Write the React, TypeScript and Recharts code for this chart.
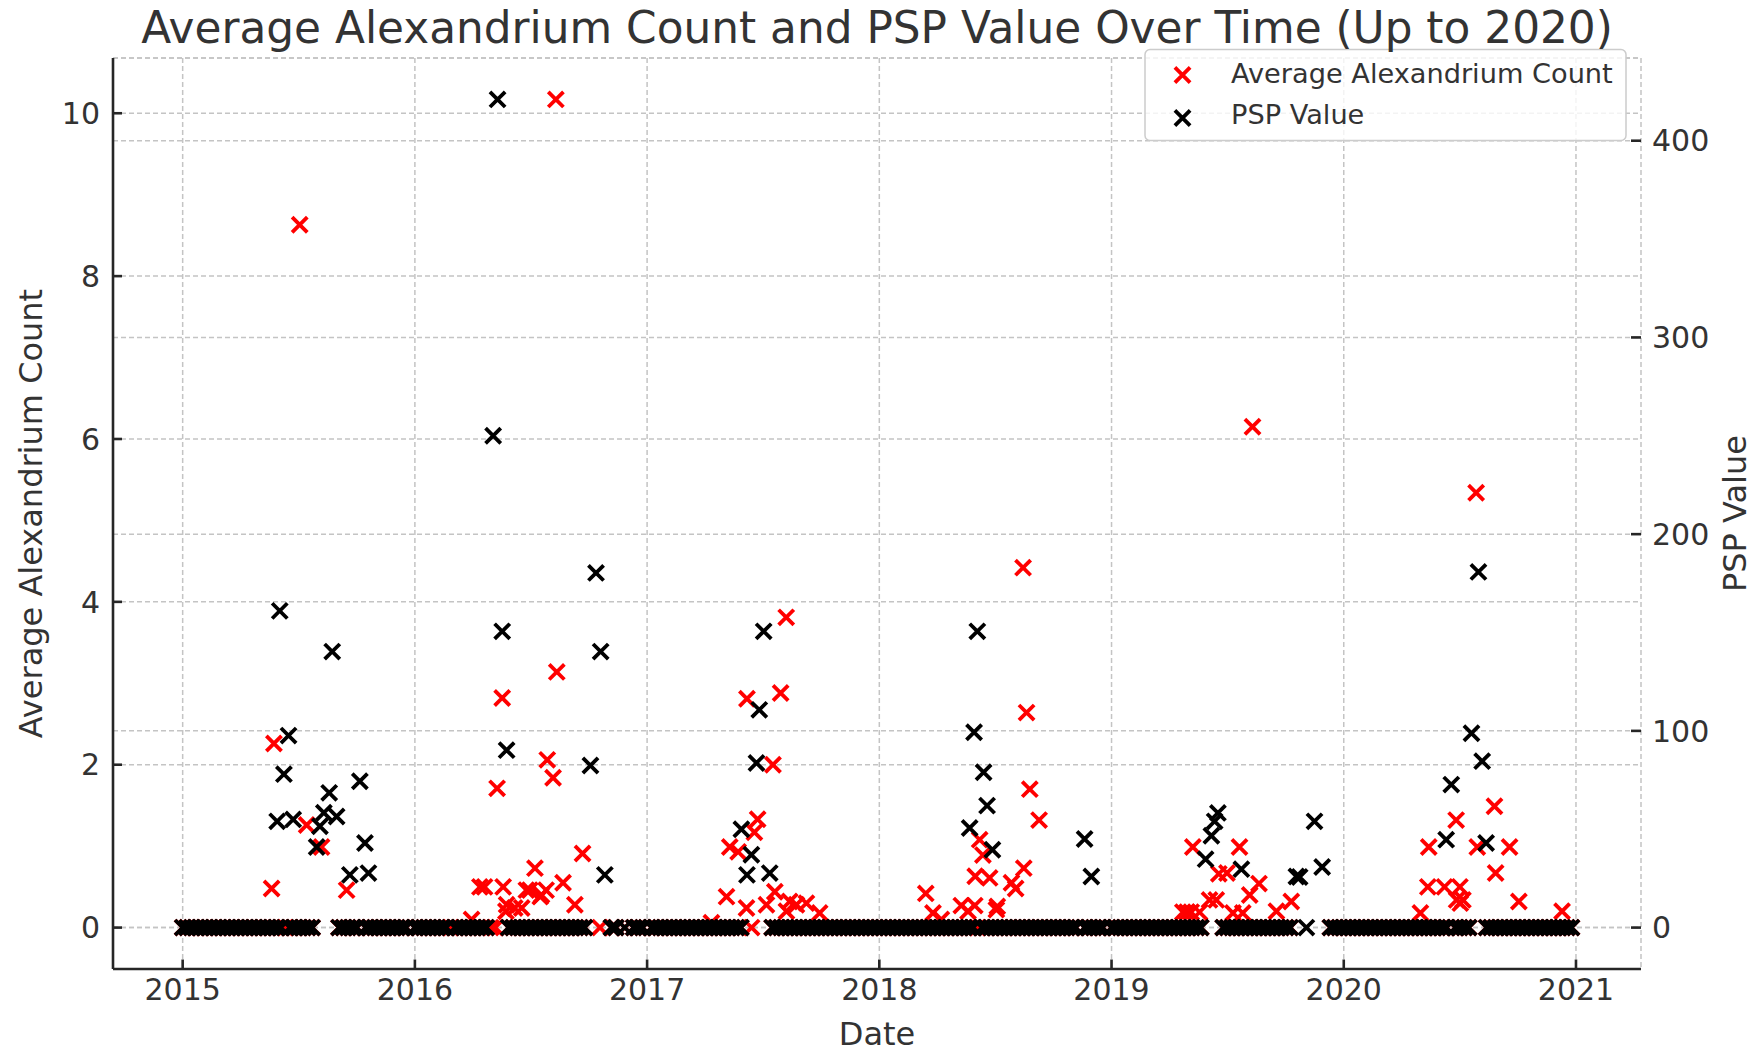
import React from 'react'
import { CartesianGrid, Legend, Scatter, ScatterChart, XAxis, YAxis } from 'recharts'

const WIDTH = 1754
const HEIGHT = 1052
const FONT = '"DejaVu Sans", Verdana, sans-serif'
const TEXT = '#333333'
const SPINE = '#262626'
const GRID = '#c4c4c4'

const yearTicks = [2015, 2016, 2017, 2018, 2019, 2020, 2021]
const countTicks = [0, 2, 4, 6, 8, 10]
const pspTicks = [0, 100, 200, 300, 400]

// weekly samples (week index within the year) where both count and PSP read 0
const zeroWeeks2015 = [0, 1, 2, 3, 4, 5, 6, 7, 8, 9, 10, 11, 12, 13, 14, 15, 16, 17, 18, 19, 20, 21, 22, 24, 25, 26, 27, 28, 29, 35, 36, 37, 38, 39, 41, 42, 43, 44, 45, 46, 47, 48, 49, 50]
const zeroWeeks2016 = [0, 1, 2, 3, 4, 5, 6, 7, 9, 10, 11, 12, 13, 14, 15, 16, 21, 22, 23, 24, 25, 26, 27, 28, 29, 30, 31, 32, 33, 34, 35, 36, 37, 38, 44, 45, 47, 49, 50, 51]
const zeroWeeks2017 = [1, 2, 3, 4, 5, 6, 7, 8, 9, 10, 11, 12, 13, 14, 15, 16, 17, 18, 19, 20, 21, 28, 29, 30, 31, 32, 33, 34, 35, 36, 37, 38, 39, 40, 41, 42, 43, 44, 45, 46, 47, 48, 49, 50, 51]
const zeroWeeks2018 = [0, 1, 2, 3, 4, 5, 6, 7, 8, 9, 10, 11, 12, 13, 14, 15, 16, 17, 18, 19, 20, 21, 23, 24, 25, 26, 27, 28, 29, 30, 31, 32, 33, 34, 35, 36, 37, 38, 39, 40, 41, 42, 43, 44, 46, 47, 48, 49, 50]
const zeroWeeks2019 = [0, 1, 2, 3, 4, 5, 6, 7, 8, 9, 10, 11, 12, 13, 14, 15, 16, 17, 18, 19, 20, 25, 26, 27, 28, 29, 30, 31, 32, 33, 34, 35, 36, 37, 38, 39, 40, 49, 50, 51]
const zeroWeeks2020 = [0, 1, 2, 3, 4, 5, 6, 7, 8, 9, 10, 11, 12, 13, 14, 15, 16, 17, 18, 19, 20, 21, 22, 23, 25, 26, 27, 28, 32, 33, 34, 35, 36, 37, 38, 39, 40, 41, 42, 43, 44, 45, 46, 47, 48, 49, 50, 51]

// Average Alexandrium count readings: [decimal year, value]
const alexReadings: [number, number][] = [
  [2015.383, 0.48], [2015.393, 2.26], [2015.442, 0], [2015.504, 8.63], [2015.534, 1.26],
  [2015.598, 0.99], [2015.706, 0.46],
  [2016.154, 0], [2016.244, 0.1], [2016.28, 0.5], [2016.3, 0.5], [2016.327, 0], [2016.346, 0],
  [2016.354, 1.71], [2016.376, 2.82], [2016.38, 0.5], [2016.392, 0.2], [2016.395, 0.28], [2016.43, 0.24],
  [2016.46, 0.24], [2016.48, 0.46], [2016.495, 0.46], [2016.517, 0.73], [2016.54, 0.38], [2016.545, 0.4],
  [2016.565, 0.46], [2016.57, 2.06], [2016.595, 1.84], [2016.607, 10.17], [2016.611, 3.14],
  [2016.638, 0.55], [2016.689, 0.28], [2016.722, 0.91], [2016.797, 0],
  [2017.277, 0.06], [2017.342, 0.38], [2017.356, 0.99], [2017.392, 0.93], [2017.428, 0.24],
  [2017.43, 2.81], [2017.45, 0], [2017.462, 1.17], [2017.476, 1.33], [2017.514, 0.28],
  [2017.542, 2.0], [2017.55, 0.44], [2017.575, 2.88], [2017.599, 3.81], [2017.6, 0.2],
  [2017.614, 0.32], [2017.643, 0.28], [2017.686, 0.3], [2017.743, 0.18],
  [2018.2, 0.42], [2018.231, 0.18], [2018.267, 0.1], [2018.353, 0.27], [2018.382, 0.2],
  [2018.411, 0.27], [2018.413, 0.63], [2018.423, 0], [2018.432, 1.08], [2018.446, 0.89],
  [2018.475, 0.61], [2018.504, 0.22], [2018.508, 0.26], [2018.569, 0.55], [2018.587, 0.48], [2018.619, 4.42],
  [2018.622, 0.73], [2018.634, 2.64], [2018.648, 1.7], [2018.688, 1.32],
  [2019.307, 0.19], [2019.325, 0.19], [2019.343, 0.19], [2019.35, 0.99], [2019.379, 0.19],
  [2019.422, 0.34], [2019.451, 0.34], [2019.462, 0.66], [2019.497, 0.67], [2019.523, 0.18],
  [2019.551, 0.99], [2019.565, 0.18], [2019.595, 0.4], [2019.607, 6.15], [2019.635, 0.54],
  [2019.71, 0.2], [2019.774, 0.32],
  [2020.33, 0.18], [2020.362, 0.5], [2020.366, 0.99], [2020.434, 0.5], [2020.484, 1.32],
  [2020.486, 0.34], [2020.5, 0.5], [2020.502, 0.3], [2020.513, 0.34], [2020.57, 5.34],
  [2020.575, 0.99], [2020.649, 1.49], [2020.654, 0.67], [2020.714, 0.99], [2020.754, 0.32],
  [2020.94, 0.2],
]

// PSP readings: [decimal year, value]
const pspReadings: [number, number][] = [
  [2015.407, 54], [2015.418, 161], [2015.436, 78], [2015.456, 97.6], [2015.476, 55],
  [2015.577, 41], [2015.591, 51.5], [2015.608, 58.4], [2015.631, 68.5], [2015.644, 140.3],
  [2015.663, 56.5], [2015.72, 26.8], [2015.763, 74.4], [2015.785, 43], [2015.8, 27.7],
  [2016.337, 250], [2016.356, 421], [2016.376, 150.6], [2016.395, 90.2], [2016.756, 82.4],
  [2016.78, 180.3], [2016.8, 140.3], [2016.818, 26.8],
  [2017.406, 50], [2017.43, 26.8], [2017.449, 37], [2017.471, 83.7], [2017.483, 110.7],
  [2017.502, 150.6], [2017.528, 27.7],
  [2018.389, 50.6], [2018.408, 99.3], [2018.422, 150.6], [2018.449, 79], [2018.464, 62],
  [2018.487, 39.6], [2018.884, 45], [2018.913, 26],
  [2019.405, 34.8], [2019.43, 46.7], [2019.444, 54], [2019.458, 58.3], [2019.559, 29.7],
  [2019.796, 26], [2019.81, 25.7], [2019.839, 0], [2019.874, 54], [2019.907, 30.8],
  [2020.441, 44.7], [2020.463, 72.7], [2020.55, 98.8], [2020.58, 180.8], [2020.596, 84.6],
  [2020.613, 43],
]

const zeroWeeks: [number, number[]][] = [
  [2015, zeroWeeks2015],
  [2016, zeroWeeks2016],
  [2017, zeroWeeks2017],
  [2018, zeroWeeks2018],
  [2019, zeroWeeks2019],
  [2020, zeroWeeks2020],
]

const zeroDates = zeroWeeks.flatMap(([year, weeks]) => weeks.map(w => year + w / 52))

const alexData = [
  ...zeroDates.map(d => ({ x: d, y: 0 })),
  ...alexReadings.map(([x, y]) => ({ x, y })),
]
const pspData = [
  ...zeroDates.map(d => ({ x: d, y: 0 })),
  ...pspReadings.map(([x, y]) => ({ x, y })),
]

const series = [
  { name: 'Average Alexandrium Count', color: '#ff0000' },
  { name: 'PSP Value', color: '#000000' },
]

const ARM = 7.6
const STROKE = 3.8
const crossPath = (cx: number, cy: number) =>
  `M${cx - ARM},${cy - ARM}L${cx + ARM},${cy + ARM}M${cx - ARM},${cy + ARM}L${cx + ARM},${cy - ARM}`

const makeCross = (color: string) => (props: any) => {
  const { cx, cy } = props
  if (cx == null || cy == null) return <g />
  return <path d={crossPath(cx, cy)} stroke={color} strokeWidth={STROKE} fill="none" />
}

const redCross = makeCross(series[0].color)
const blackCross = makeCross(series[1].color)

const LegendBox = () => (
  <svg width={484} height={94} style={{ display: 'block' }}>
    <rect x={1} y={1.5} width={481} height={91} rx={5} fill="#ffffff" fillOpacity={0.8} stroke="#cccccc" strokeWidth={1.5} />
    {series.map((s, i) => (
      <g key={s.name}>
        <path d={crossPath(38.5, i === 0 ? 27 : 70)} stroke={s.color} strokeWidth={STROKE} fill="none" />
        <text x={87} y={i === 0 ? 34.7 : 76} fontFamily={FONT} fontSize={27.2} fill={TEXT}>
          {s.name}
        </text>
      </g>
    ))}
  </svg>
)

const tickStyle = { fill: TEXT, fontSize: 30, fontFamily: FONT }
const spineStyle = { stroke: SPINE, strokeWidth: 2.6 }

export default function App() {
  return (
    <div style={{ position: 'absolute', left: 0, top: 0, width: WIDTH, height: HEIGHT, background: '#fff' }}>
      <ScatterChart width={WIDTH} height={HEIGHT} margin={{ top: 58, right: 0, bottom: 0, left: 0 }}>
        <CartesianGrid xAxisId="date" yAxisId="left" stroke={GRID} strokeWidth={1.5} strokeDasharray="5 3" />
        <CartesianGrid xAxisId="date" yAxisId="right" vertical={false} stroke={GRID} strokeWidth={1.5} strokeDasharray="5 3" />
        <XAxis
          xAxisId="date"
          type="number"
          dataKey="x"
          domain={[2014.7, 2021.28]}
          allowDataOverflow
          ticks={yearTicks}
          interval={0}
          height={83}
          tick={tickStyle}
          tickSize={-9.5}
          tickMargin={19.5}
          axisLine={spineStyle}
          tickLine={spineStyle}
          label={{ value: 'Date', position: 'center', dy: 23.5, fill: TEXT, fontSize: 32, fontFamily: FONT }}
        />
        <YAxis
          yAxisId="left"
          type="number"
          dataKey="y"
          domain={[-0.5085, 10.6785]}
          allowDataOverflow
          ticks={countTicks}
          interval={0}
          width={113}
          tick={tickStyle}
          tickSize={-9}
          tickMargin={22}
          axisLine={spineStyle}
          tickLine={spineStyle}
          label={{
            value: 'Average Alexandrium Count',
            angle: -90,
            position: 'center',
            dx: -26,
            fill: TEXT,
            fontSize: 32,
            fontFamily: FONT,
          }}
        />
        <YAxis
          yAxisId="right"
          orientation="right"
          type="number"
          dataKey="y"
          domain={[-21.05, 442.05]}
          allowDataOverflow
          ticks={pspTicks}
          interval={0}
          width={113}
          tick={tickStyle}
          tickSize={-10}
          tickMargin={21}
          axisLine={false}
          tickLine={spineStyle}
          label={{
            value: 'PSP Value',
            angle: -90,
            position: 'center',
            dx: 37,
            fill: TEXT,
            fontSize: 32,
            fontFamily: FONT,
          }}
        />
        <Scatter
          name={series[0].name}
          data={alexData}
          xAxisId="date"
          yAxisId="left"
          fill={series[0].color}
          shape={redCross}
          isAnimationActive={false}
        />
        <Scatter
          name={series[1].name}
          data={pspData}
          xAxisId="date"
          yAxisId="right"
          fill={series[1].color}
          shape={blackCross}
          isAnimationActive={false}
        />
        <Legend
          layout="horizontal"
          verticalAlign="middle"
          align="center"
          content={LegendBox}
          wrapperStyle={{ left: 1144, top: 48, width: 484, height: 94 }}
        />
      </ScatterChart>
      <svg width={WIDTH} height={60} style={{ position: 'absolute', left: 0, top: 0, pointerEvents: 'none' }}>
        <text x={877} y={43.3} textAnchor="middle" fontFamily={FONT} fontSize={43.8} fill={TEXT}>
          Average Alexandrium Count and PSP Value Over Time (Up to 2020)
        </text>
      </svg>
    </div>
  )
}
